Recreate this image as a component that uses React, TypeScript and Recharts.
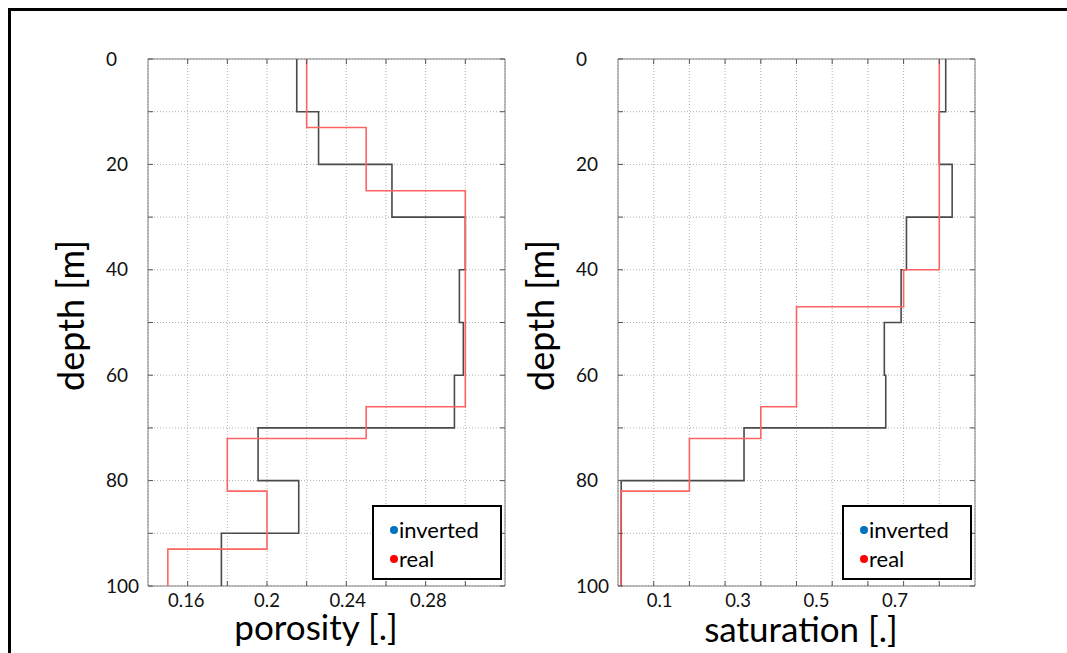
import { CartesianGrid, Scatter, ScatterChart, XAxis, YAxis } from "recharts";

// depth axis
const depthTicks = [0, 10, 20, 30, 40, 50, 60, 70, 80, 90, 100];
const depthLabels = [0, 20, 40, 60, 80, 100];

// porosity panel
const porosityGrid = [0.16, 0.18, 0.2, 0.22, 0.24, 0.26, 0.28, 0.3];
const porosityLabels = [0.16, 0.2, 0.24, 0.28];
const porosityInvertedTops = [0, 10, 20, 30, 40, 50, 60, 70, 80, 90, 100];
const porosityInverted = [0.215, 0.226, 0.263, 0.3, 0.297, 0.299, 0.2945, 0.1955, 0.216, 0.177];
const porosityRealTops = [0, 13, 25, 66, 72, 82, 93, 100];
const porosityReal = [0.22, 0.25, 0.3, 0.25, 0.18, 0.2, 0.15];

// saturation panel
const saturationGrid = [0.1, 0.2, 0.3, 0.4, 0.5, 0.6, 0.7, 0.8, 0.9];
const saturationLabels = [0.1, 0.3, 0.5, 0.7];
const saturationInvertedTops = [0, 10, 20, 30, 40, 50, 60, 70, 80, 90, 100];
const saturationInverted = [0.918, 0.9, 0.936, 0.808, 0.793, 0.746, 0.75, 0.353, 0.009, 0.009];
const saturationRealTops = [0, 40, 47, 66, 72, 82, 100];
const saturationReal = [0.9, 0.8, 0.5, 0.4, 0.2, 0.008];

type Point = { depth: number; value: number };

function toSteps(tops: number[], values: number[]): Point[] {
  return values.flatMap((value, i) => [
    { depth: tops[i], value },
    { depth: tops[i + 1], value },
  ]);
}

const font = "Lato, 'Open Sans', sans-serif";
const frameLine = { stroke: "#808080", strokeWidth: 1 };
const tickColor = "#555";

function BottomTick({ x, y }: any) {
  return <line x1={x} x2={x} y1={y} y2={y - 5} stroke={tickColor} />;
}

function TopTick({ x, y }: any) {
  return <line x1={x} x2={x} y1={y} y2={y + 5} stroke={tickColor} />;
}

function LabelTick({ x, y, payload }: any) {
  return (
    <text x={x} y={y + 14} dy="0.35em" textAnchor="middle" fontFamily={font} fontSize={18.5} fill="#111">
      {payload.value}
    </text>
  );
}

function LeftTick({ x, y, payload }: any) {
  return (
    <g>
      <line x1={x} x2={x + 5} y1={y} y2={y} stroke={tickColor} />
      {depthLabels.includes(payload.value) && (
        <text x={x - 42} y={y} dy="0.35em" textAnchor="start" fontFamily={font} fontSize={19} fill="#111">
          {payload.value}
        </text>
      )}
    </g>
  );
}

function RightTick({ x, y }: any) {
  return <line x1={x} x2={x - 5} y1={y} y2={y} stroke={tickColor} />;
}

const noDot = () => <g />;

type PanelProps = {
  left: number;
  xDomain: [number, number];
  labelDomain: [number, number];
  grid: number[];
  labels: number[];
  inverted: Point[];
  real: Point[];
  title: string;
  titleX: number;
  titleY: number;
};

function Legend() {
  const row = (color: string, text: string, top: number) => (
    <div style={{ position: "absolute", left: 16, top, height: 29, lineHeight: "29px", display: "flex", alignItems: "center" }}>
      <span style={{ width: 8, height: 8, borderRadius: 4, background: color, marginRight: 1 }} />
      <span style={{ fontFamily: font, fontSize: 22, color: "#000" }}>{text}</span>
    </div>
  );
  return (
    <div
      style={{
        position: "absolute",
        left: 372,
        top: 505,
        width: 126,
        height: 71,
        border: "2px solid #000",
        background: "#fff",
      }}
    >
      {row("#0070c0", "inverted", 8)}
      {row("#ff0000", "real", 37)}
    </div>
  );
}

function Panel({ left, xDomain, labelDomain, grid, labels, inverted, real, title, titleX, titleY }: PanelProps) {
  return (
    <div style={{ position: "absolute", left, top: 0, width: 540, height: 653 }}>
      <ScatterChart width={540} height={653} margin={{ top: 58, right: 34, bottom: 65, left: 147 }}>
        <CartesianGrid xAxisId="grid" yAxisId="depth" stroke="#b0b0b0" strokeDasharray="1 2" />
        <XAxis
          xAxisId="grid"
          type="number"
          dataKey="value"
          domain={xDomain}
          ticks={grid}
          allowDataOverflow
          interval={0}
          height={1}
          tickSize={0}
          tickMargin={0}
          tickLine={false}
          axisLine={frameLine}
          tick={(p: any) => <BottomTick {...p} />}
        />
        <XAxis
          xAxisId="label"
          type="number"
          dataKey="value"
          domain={labelDomain}
          ticks={labels}
          allowDataOverflow
          interval={0}
          height={1}
          tickSize={0}
          tickMargin={0}
          tickLine={false}
          axisLine={false}
          tick={(p: any) => <LabelTick {...p} />}
        />
        <XAxis
          xAxisId="top"
          orientation="top"
          type="number"
          dataKey="value"
          domain={xDomain}
          ticks={grid}
          allowDataOverflow
          interval={0}
          height={1}
          tickSize={0}
          tickMargin={0}
          tickLine={false}
          axisLine={frameLine}
          tick={(p: any) => <TopTick {...p} />}
        />
        <YAxis
          yAxisId="depth"
          type="number"
          dataKey="depth"
          domain={[0, 100]}
          reversed
          ticks={depthTicks}
          allowDataOverflow
          interval={0}
          width={1}
          tickSize={0}
          tickMargin={0}
          tickLine={false}
          axisLine={frameLine}
          tick={(p: any) => <LeftTick {...p} />}
        />
        <YAxis
          yAxisId="right"
          orientation="right"
          type="number"
          dataKey="depth"
          domain={[0, 100]}
          reversed
          ticks={depthTicks}
          allowDataOverflow
          interval={0}
          width={1}
          tickSize={0}
          tickMargin={0}
          tickLine={false}
          axisLine={frameLine}
          tick={(p: any) => <RightTick {...p} />}
        />
        <Scatter
          xAxisId="grid"
          yAxisId="depth"
          data={inverted}
          line={{ stroke: "#4a4a4a", strokeWidth: 1.6 }}
          shape={noDot}
          isAnimationActive={false}
        />
        <Scatter
          xAxisId="grid"
          yAxisId="depth"
          data={real}
          line={{ stroke: "#ff6464", strokeWidth: 1.6 }}
          shape={noDot}
          isAnimationActive={false}
        />
      </ScatterChart>
      <svg width={540} height={653} style={{ position: "absolute", left: 0, top: 0, pointerEvents: "none" }}>
        <text
          transform="translate(84 315.5) rotate(-90)"
          textAnchor="middle"
          fontFamily={font}
          fontSize={36}
          fill="#000"
        >
          depth [m]
        </text>
        <text x={titleX} y={titleY} textAnchor="middle" fontFamily={font} fontSize={35} fill="#000">
          {title}
        </text>
      </svg>
      <Legend />
    </div>
  );
}

export default function App() {
  return (
    <div style={{ position: "absolute", left: 0, top: 0, width: 1067, height: 653, background: "#fff", overflow: "hidden" }}>
      <div
        style={{
          position: "absolute",
          left: 8,
          top: 8,
          width: 1059,
          height: 645,
          borderTop: "3px solid #000",
          borderLeft: "3px solid #000",
        }}
      />
      <Panel
        left={0}
        xDomain={[0.14, 0.32]}
        labelDomain={[0.141, 0.318]}
        grid={porosityGrid}
        labels={porosityLabels}
        inverted={toSteps(porosityInvertedTops, porosityInverted)}
        real={toSteps(porosityRealTops, porosityReal)}
        title="porosity [.]"
        titleX={316}
        titleY={640}
      />
      <Panel
        left={470}
        xDomain={[0, 1]}
        labelDomain={[-0.006, 0.904]}
        grid={saturationGrid}
        labels={saturationLabels}
        inverted={toSteps(saturationInvertedTops, saturationInverted)}
        real={toSteps(saturationRealTops, saturationReal)}
        title="saturation [.]"
        titleX={331}
        titleY={642}
      />
    </div>
  );
}
